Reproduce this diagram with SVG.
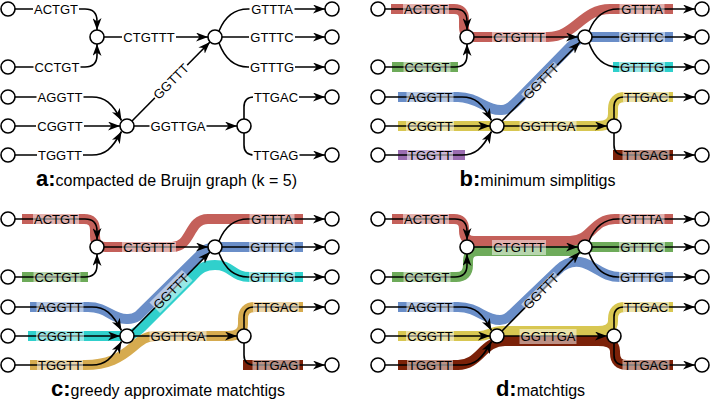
<svg xmlns="http://www.w3.org/2000/svg" width="710" height="400" viewBox="0 0 710 400">
<defs>
<marker id="arr" viewBox="0 0 12 9" refX="12" refY="4.5" markerWidth="12" markerHeight="9" markerUnits="userSpaceOnUse" orient="auto"><path d="M0,0 L12,4.5 L0,9 L3.5,4.5 z" fill="#000"/></marker>
</defs>
<style>
.nd{fill:#fff;stroke:#000;stroke-width:1.6}
.e{fill:none;stroke:#000;stroke-width:1.6;marker-end:url(#arr)}
.b{fill:none;stroke-width:10;stroke-linecap:butt;stroke-linejoin:round}
.lw{fill:#fff}
.lt{fill:#fff;fill-opacity:.5}
.t{font-family:"Liberation Sans",Arial,sans-serif;font-size:13px;fill:#000;text-anchor:middle}
.cap{font-family:"Liberation Sans",Arial,sans-serif;font-size:16px;fill:#000;text-anchor:middle}
.cl{font-weight:bold;font-size:22px}
.red{stroke:#c4605a}.grn{stroke:#6eab5a}.blu{stroke:#6a8ec8}.yel{stroke:#d8c752}.pur{stroke:#9b6db1}.cya{stroke:#30d0cc}.brn{stroke:#7b2108}.mus{stroke:#d6ab4f}
</style>

<!-- ===== Panel a ===== -->
<g id="panel-a">
<g id="a-connectors">
<path class="e" d="M15,9 H85 Q97,9 97,21 V30"/>
<path class="e" d="M15,67 H85 Q97,67 97,55 V44"/>
<path class="e" d="M104,37 H208"/>
<path class="e" d="M15,97 H92 C105,97 112,103 121.5,120.5"/>
<path class="e" d="M15,126 H120"/>
<path class="e" d="M15,155 H92 C105,155 112,149 121.5,131.5"/>
<path class="e" d="M132,121 L210,42"/>
<path class="e" d="M134,126 H237"/>
<path class="e" d="M219,31 Q228,9 248,9 H325"/>
<path class="e" d="M222,37 H325"/>
<path class="e" d="M219,43 Q228,67 248,67 H325"/>
<path class="e" d="M244,119 V107 Q244,97 254,97 H325"/>
<path class="e" d="M244,133 V145 Q244,155 254,155 H325"/>
</g>
<g id="a-labels">
<rect class="lw" x="33" y="5" width="46" height="8"/><text class="t" x="56" y="13.6">ACTGT</text>
<rect class="lw" x="33.5" y="63" width="47" height="8"/><text class="t" x="57" y="71.6">CCTGT</text>
<rect class="lw" x="36.5" y="93" width="47" height="8"/><text class="t" x="60" y="101.6">AGGTT</text>
<rect class="lw" x="36" y="122" width="48" height="8"/><text class="t" x="60" y="130.6">CGGTT</text>
<rect class="lw" x="37" y="151" width="46" height="8"/><text class="t" x="60" y="159.6">TGGTT</text>
<rect class="lw" x="122" y="33" width="54" height="8"/><text class="t" x="149" y="41.6">CTGTTT</text>
<g transform="rotate(-45 171 81.5)"><rect class="lw" x="148" y="77.5" width="46" height="8"/><text class="t" x="171" y="86.1">GGTTT</text></g>
<rect class="lw" x="149.5" y="122" width="57" height="8"/><text class="t" x="178" y="130.6">GGTTGA</text>
<rect class="lw" x="249.5" y="5" width="45" height="8"/><text class="t" x="272" y="13.6">GTTTA</text>
<rect class="lw" x="249" y="33" width="46" height="8"/><text class="t" x="272" y="41.6">GTTTC</text>
<rect class="lw" x="249" y="63" width="46" height="8"/><text class="t" x="272" y="71.6">GTTTG</text>
<rect class="lw" x="253" y="93" width="46" height="8"/><text class="t" x="276" y="101.6">TTGAC</text>
<rect class="lw" x="252.5" y="151" width="47" height="8"/><text class="t" x="276" y="159.6">TTGAG</text>
</g>
<g id="a-n1"><circle class="nd" cx="8" cy="9" r="7"/></g>
<g id="a-n2"><circle class="nd" cx="8" cy="67" r="7"/></g>
<g id="a-n3"><circle class="nd" cx="8" cy="97" r="7"/></g>
<g id="a-n4"><circle class="nd" cx="8" cy="126" r="7"/></g>
<g id="a-n5"><circle class="nd" cx="8" cy="155" r="7"/></g>
<g id="a-n6"><circle class="nd" cx="97" cy="37" r="7"/></g>
<g id="a-n7"><circle class="nd" cx="127" cy="126" r="7"/></g>
<g id="a-n8"><circle class="nd" cx="215" cy="37" r="7"/></g>
<g id="a-n9"><circle class="nd" cx="244" cy="126" r="7"/></g>
<g id="a-n10"><circle class="nd" cx="332" cy="9" r="7"/></g>
<g id="a-n11"><circle class="nd" cx="332" cy="37" r="7"/></g>
<g id="a-n12"><circle class="nd" cx="332" cy="67" r="7"/></g>
<g id="a-n13"><circle class="nd" cx="332" cy="97" r="7"/></g>
<g id="a-n14"><circle class="nd" cx="332" cy="155" r="7"/></g>
<text class="cap" x="166.5" y="186"><tspan class="cl">a:</tspan>compacted de Bruijn graph (k = 5)</text>
</g>

<!-- ===== Panel b ===== -->
<g id="panel-b" transform="translate(370,0)">
<g id="b-bands">
<path class="b red" d="M21,9 H84 Q94,9 94,19 V27 Q94,37 104,37 H178 C205,37 212,9 240,9 H303"/>
<path class="b grn" d="M22,67 H88"/>
<path class="b blu" d="M28,97 H88 C108,97 116,111 132,110 C139,110 144,104 150,98 L200,47 C207,40 211,37 220,37 H303"/>
<path class="b yel" d="M28,126 H228 Q243,126 243,114 V109 Q243,97 255,97 H303"/>
<path class="b pur" d="M28,155 H95"/>
<path class="b cya" d="M243,67 H303"/>
<path class="b brn" d="M243,155 H303"/>
</g>
<g id="b-connectors">
<path class="e" d="M15,9 H85 Q97,9 97,21 V30"/>
<path class="e" d="M15,67 H85 Q97,67 97,55 V44"/>
<path class="e" d="M104,37 H208"/>
<path class="e" d="M15,97 H92 C105,97 112,103 121.5,120.5"/>
<path class="e" d="M15,126 H120"/>
<path class="e" d="M15,155 H92 C105,155 112,149 121.5,131.5"/>
<path class="e" d="M132,121 L210,42"/>
<path class="e" d="M134,126 H237"/>
<path class="e" d="M219,31 Q228,9 248,9 H325"/>
<path class="e" d="M222,37 H325"/>
<path class="e" d="M219,43 Q228,67 248,67 H325"/>
<path class="e" d="M244,119 V107 Q244,97 254,97 H325"/>
<path class="e" d="M244,133 V145 Q244,155 254,155 H325"/>
</g>
<g id="b-labels">
<rect class="lt" x="33" y="4" width="46" height="10"/><text class="t" x="56" y="13.6">ACTGT</text>
<rect class="lt" x="33.5" y="62" width="47" height="10"/><text class="t" x="57" y="71.6">CCTGT</text>
<rect class="lt" x="36.5" y="92" width="47" height="10"/><text class="t" x="60" y="101.6">AGGTT</text>
<rect class="lt" x="36" y="121" width="48" height="10"/><text class="t" x="60" y="130.6">CGGTT</text>
<rect class="lt" x="37" y="150" width="46" height="10"/><text class="t" x="60" y="159.6">TGGTT</text>
<rect class="lt" x="122" y="32" width="54" height="10"/><text class="t" x="149" y="41.6">CTGTTT</text>
<g transform="rotate(-45 171 81.5)"><rect class="lt" x="148" y="76.5" width="46" height="10"/><text class="t" x="171" y="86.1">GGTTT</text></g>
<rect class="lt" x="149.5" y="121" width="57" height="10"/><text class="t" x="178" y="130.6">GGTTGA</text>
<rect class="lt" x="249.5" y="4" width="45" height="10"/><text class="t" x="272" y="13.6">GTTTA</text>
<rect class="lt" x="249" y="32" width="46" height="10"/><text class="t" x="272" y="41.6">GTTTC</text>
<rect class="lt" x="249" y="62" width="46" height="10"/><text class="t" x="272" y="71.6">GTTTG</text>
<rect class="lt" x="253" y="92" width="46" height="10"/><text class="t" x="276" y="101.6">TTGAC</text>
<rect class="lt" x="252.5" y="150" width="47" height="10"/><text class="t" x="276" y="159.6">TTGAG</text>
</g>
<g id="b-n1"><circle class="nd" cx="8" cy="9" r="7"/></g>
<g id="b-n2"><circle class="nd" cx="8" cy="67" r="7"/></g>
<g id="b-n3"><circle class="nd" cx="8" cy="97" r="7"/></g>
<g id="b-n4"><circle class="nd" cx="8" cy="126" r="7"/></g>
<g id="b-n5"><circle class="nd" cx="8" cy="155" r="7"/></g>
<g id="b-n6"><circle class="nd" cx="97" cy="37" r="7"/></g>
<g id="b-n7"><circle class="nd" cx="127" cy="126" r="7"/></g>
<g id="b-n8"><circle class="nd" cx="215" cy="37" r="7"/></g>
<g id="b-n9"><circle class="nd" cx="244" cy="126" r="7"/></g>
<g id="b-n10"><circle class="nd" cx="332" cy="9" r="7"/></g>
<g id="b-n11"><circle class="nd" cx="332" cy="37" r="7"/></g>
<g id="b-n12"><circle class="nd" cx="332" cy="67" r="7"/></g>
<g id="b-n13"><circle class="nd" cx="332" cy="97" r="7"/></g>
<g id="b-n14"><circle class="nd" cx="332" cy="155" r="7"/></g>
<text class="cap" x="167.5" y="186"><tspan class="cl">b:</tspan>minimum simplitigs</text>
</g>

<!-- ===== Panel c ===== -->
<g id="panel-c" transform="translate(0,210)">
<g id="c-bands">
<path class="b red" d="M22,9 H84 Q95,9 95,20 V26 Q95,37 106,37 H172 C192,37 188,9 208,9 H303"/>
<path class="b grn" d="M22,67 H88"/>
<path class="b mus" d="M30,155 H85 C108,155 120,148 133,137 C141,130 146,126 156,126 H228 Q243,126 243,114 V109 Q243,97 255,97 H303"/>
<path class="b cya" d="M28,126 H120 C130,126 135,124 142,117 L192,67 C200,58 205,55 215,55 C232,55 232,67 250,67 H303"/>
<path class="b blu" d="M30,97 H88 C108,97 112,110 128,109 Q133,109 138,106 L200,45 Q206,37 216,37 H303"/>
<path class="b brn" d="M243,155 H303"/>
</g>
<g id="c-connectors">
<path class="e" d="M15,9 H85 Q97,9 97,21 V30"/>
<path class="e" d="M15,67 H85 Q97,67 97,55 V44"/>
<path class="e" d="M104,37 H208"/>
<path class="e" d="M15,97 H92 C105,97 112,103 121.5,120.5"/>
<path class="e" d="M15,126 H120"/>
<path class="e" d="M15,155 H92 C105,155 112,149 121.5,131.5"/>
<path class="e" d="M132,121 L210,42"/>
<path class="e" d="M134,126 H237"/>
<path class="e" d="M219,31 Q228,9 248,9 H325"/>
<path class="e" d="M222,37 H325"/>
<path class="e" d="M219,43 Q228,67 248,67 H325"/>
<path class="e" d="M244,119 V107 Q244,97 254,97 H325"/>
<path class="e" d="M244,133 V145 Q244,155 254,155 H325"/>
</g>
<g id="c-labels">
<rect class="lt" x="33" y="4" width="46" height="10"/><text class="t" x="56" y="13.6">ACTGT</text>
<rect class="lt" x="33.5" y="62" width="47" height="10"/><text class="t" x="57" y="71.6">CCTGT</text>
<rect class="lt" x="36.5" y="92" width="47" height="10"/><text class="t" x="60" y="101.6">AGGTT</text>
<rect class="lt" x="36" y="121" width="48" height="10"/><text class="t" x="60" y="130.6">CGGTT</text>
<rect class="lt" x="37" y="150" width="46" height="10"/><text class="t" x="60" y="159.6">TGGTT</text>
<rect class="lt" x="122" y="32" width="54" height="10"/><text class="t" x="149" y="41.6">CTGTTT</text>
<g transform="rotate(-45 171 81.5)"><rect class="lt" x="148" y="74" width="46" height="15"/><text class="t" x="171" y="86.1">GGTTT</text></g>
<rect class="lt" x="149.5" y="121" width="57" height="10"/><text class="t" x="178" y="130.6">GGTTGA</text>
<rect class="lt" x="249.5" y="4" width="45" height="10"/><text class="t" x="272" y="13.6">GTTTA</text>
<rect class="lt" x="249" y="32" width="46" height="10"/><text class="t" x="272" y="41.6">GTTTC</text>
<rect class="lt" x="249" y="62" width="46" height="10"/><text class="t" x="272" y="71.6">GTTTG</text>
<rect class="lt" x="253" y="92" width="46" height="10"/><text class="t" x="276" y="101.6">TTGAC</text>
<rect class="lt" x="252.5" y="150" width="47" height="10"/><text class="t" x="276" y="159.6">TTGAG</text>
</g>
<g id="c-n1"><circle class="nd" cx="8" cy="9" r="7"/></g>
<g id="c-n2"><circle class="nd" cx="8" cy="67" r="7"/></g>
<g id="c-n3"><circle class="nd" cx="8" cy="97" r="7"/></g>
<g id="c-n4"><circle class="nd" cx="8" cy="126" r="7"/></g>
<g id="c-n5"><circle class="nd" cx="8" cy="155" r="7"/></g>
<g id="c-n6"><circle class="nd" cx="97" cy="37" r="7"/></g>
<g id="c-n7"><circle class="nd" cx="127" cy="126" r="7"/></g>
<g id="c-n8"><circle class="nd" cx="215" cy="37" r="7"/></g>
<g id="c-n9"><circle class="nd" cx="244" cy="126" r="7"/></g>
<g id="c-n10"><circle class="nd" cx="332" cy="9" r="7"/></g>
<g id="c-n11"><circle class="nd" cx="332" cy="37" r="7"/></g>
<g id="c-n12"><circle class="nd" cx="332" cy="67" r="7"/></g>
<g id="c-n13"><circle class="nd" cx="332" cy="97" r="7"/></g>
<g id="c-n14"><circle class="nd" cx="332" cy="155" r="7"/></g>
<text class="cap" x="168" y="186"><tspan class="cl">c:</tspan>greedy approximate matchtigs</text>
</g>

<!-- ===== Panel d ===== -->
<g id="panel-d" transform="translate(370,210)">
<g id="d-bands">
<path class="b red" d="M22,9 H84 Q94,9 94,19 V21 Q94,31 104,31 H200 C222,31 222,9 245,9 H303"/>
<path class="b grn" d="M22,67 H86 Q98,67 98,55 V51 Q98,41 108,41 H200 C208,41 212,37 222,37 H303"/>
<path class="b blu" d="M28,97 H88 C108,97 114,110 130,110 Q136,110 142,104 L188,60 C196,52 204,50 214,53 C228,58 234,67 250,67 H303"/>
<path class="b yel" d="M28,126 H110 C118,126 122,121 132,121 H228 Q243,121 243,111 V109 Q243,97 255,97 H303"/>
<path class="b brn" d="M28,155 H88 C110,155 112,131 135,131 H228 Q245,131 245,141 V143 Q245,155 257,155 H303"/>
</g>
<g id="d-connectors">
<path class="e" d="M15,9 H85 Q97,9 97,21 V30"/>
<path class="e" d="M15,67 H85 Q97,67 97,55 V44"/>
<path class="e" d="M104,37 H208"/>
<path class="e" d="M15,97 H92 C105,97 112,103 121.5,120.5"/>
<path class="e" d="M15,126 H120"/>
<path class="e" d="M15,155 H92 C105,155 112,149 121.5,131.5"/>
<path class="e" d="M132,121 L210,42"/>
<path class="e" d="M134,126 H237"/>
<path class="e" d="M219,31 Q228,9 248,9 H325"/>
<path class="e" d="M222,37 H325"/>
<path class="e" d="M219,43 Q228,67 248,67 H325"/>
<path class="e" d="M244,119 V107 Q244,97 254,97 H325"/>
<path class="e" d="M244,133 V145 Q244,155 254,155 H325"/>
</g>
<g id="d-labels">
<rect class="lt" x="33" y="4" width="46" height="10"/><text class="t" x="56" y="13.6">ACTGT</text>
<rect class="lt" x="33.5" y="62" width="47" height="10"/><text class="t" x="57" y="71.6">CCTGT</text>
<rect class="lt" x="36.5" y="92" width="47" height="10"/><text class="t" x="60" y="101.6">AGGTT</text>
<rect class="lt" x="36" y="121" width="48" height="10"/><text class="t" x="60" y="130.6">CGGTT</text>
<rect class="lt" x="37" y="150" width="46" height="10"/><text class="t" x="60" y="159.6">TGGTT</text>
<rect class="lt" x="122" y="30" width="54" height="15"/><text class="t" x="149" y="41.6">CTGTTT</text>
<g transform="rotate(-45 171 81.5)"><rect class="lt" x="148" y="76.5" width="46" height="10"/><text class="t" x="171" y="86.1">GGTTT</text></g>
<rect class="lt" x="149.5" y="119" width="57" height="15"/><text class="t" x="178" y="130.6">GGTTGA</text>
<rect class="lt" x="249.5" y="4" width="45" height="10"/><text class="t" x="272" y="13.6">GTTTA</text>
<rect class="lt" x="249" y="32" width="46" height="10"/><text class="t" x="272" y="41.6">GTTTC</text>
<rect class="lt" x="249" y="62" width="46" height="10"/><text class="t" x="272" y="71.6">GTTTG</text>
<rect class="lt" x="253" y="92" width="46" height="10"/><text class="t" x="276" y="101.6">TTGAC</text>
<rect class="lt" x="252.5" y="150" width="47" height="10"/><text class="t" x="276" y="159.6">TTGAG</text>
</g>
<g id="d-n1"><circle class="nd" cx="8" cy="9" r="7"/></g>
<g id="d-n2"><circle class="nd" cx="8" cy="67" r="7"/></g>
<g id="d-n3"><circle class="nd" cx="8" cy="97" r="7"/></g>
<g id="d-n4"><circle class="nd" cx="8" cy="126" r="7"/></g>
<g id="d-n5"><circle class="nd" cx="8" cy="155" r="7"/></g>
<g id="d-n6"><circle class="nd" cx="97" cy="37" r="7"/></g>
<g id="d-n7"><circle class="nd" cx="127" cy="126" r="7"/></g>
<g id="d-n8"><circle class="nd" cx="215" cy="37" r="7"/></g>
<g id="d-n9"><circle class="nd" cx="244" cy="126" r="7"/></g>
<g id="d-n10"><circle class="nd" cx="332" cy="9" r="7"/></g>
<g id="d-n11"><circle class="nd" cx="332" cy="37" r="7"/></g>
<g id="d-n12"><circle class="nd" cx="332" cy="67" r="7"/></g>
<g id="d-n13"><circle class="nd" cx="332" cy="97" r="7"/></g>
<g id="d-n14"><circle class="nd" cx="332" cy="155" r="7"/></g>
<text class="cap" x="170.5" y="186"><tspan class="cl">d:</tspan>matchtigs</text>
</g>
</svg>
